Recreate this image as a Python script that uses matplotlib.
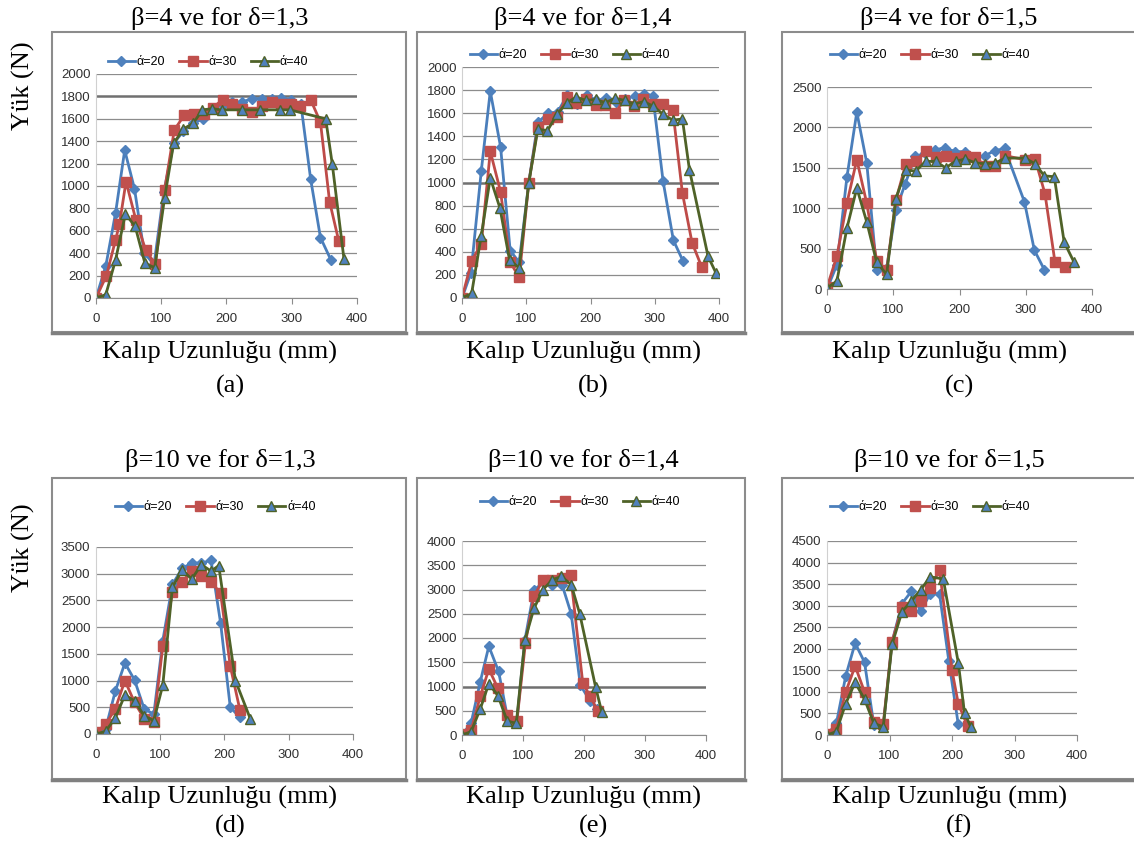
import matplotlib
matplotlib.use("Agg")
import matplotlib.pyplot as plt
from matplotlib.patches import Rectangle
from matplotlib.lines import Line2D

W, H = 1134, 843

# (a) beta=4, delta=1,3
xa_20 = [0, 15, 30, 44, 59, 74, 89, 104, 119, 134, 149, 164, 179, 194, 209, 224, 239, 254, 269, 284, 299, 314, 329, 344, 360]
ya_20 = [0, 285, 760, 1320, 975, 400, 300, 950, 1380, 1490, 1560, 1600, 1700, 1720, 1750, 1750, 1780, 1780, 1780, 1790, 1770, 1730, 1060, 540, 340]
xa_30 = [0, 16, 30, 36, 46, 61, 76, 91, 105, 120, 135, 150, 165, 179, 194, 209, 224, 239, 254, 269, 283, 299, 313, 329, 344, 358, 372]
ya_30 = [0, 200, 520, 660, 1040, 700, 430, 300, 960, 1500, 1630, 1640, 1640, 1700, 1770, 1730, 1690, 1660, 1710, 1750, 1730, 1730, 1710, 1770, 1570, 860, 510]
xa_40 = [0, 15, 30, 45, 60, 75, 90, 105, 119, 134, 149, 163, 178, 193, 223, 252, 282, 297, 352, 362, 380]
ya_40 = [0, 30, 340, 750, 640, 310, 270, 890, 1380, 1510, 1560, 1680, 1690, 1680, 1680, 1680, 1680, 1680, 1600, 1200, 350]

# (b) beta=4, delta=1,4
xb_20 = [0, 14, 30, 44, 60, 75, 89, 104, 118, 134, 149, 164, 179, 194, 209, 224, 239, 254, 269, 284, 297, 313, 329, 344]
yb_20 = [0, 220, 1100, 1790, 1310, 410, 310, 1000, 1520, 1600, 1610, 1760, 1680, 1760, 1710, 1730, 1700, 1720, 1750, 1770, 1750, 1010, 500, 320]
xb_30 = [0, 15, 30, 44, 60, 75, 89, 104, 118, 134, 148, 163, 178, 193, 208, 222, 238, 252, 267, 282, 298, 313, 328, 343, 358, 373]
yb_30 = [0, 320, 470, 1270, 920, 310, 180, 1000, 1480, 1550, 1570, 1740, 1690, 1720, 1670, 1670, 1600, 1710, 1660, 1720, 1680, 1680, 1630, 910, 480, 270]
xb_40 = [0, 15, 30, 44, 59, 74, 89, 104, 118, 133, 148, 163, 178, 193, 208, 223, 238, 253, 268, 283, 298, 313, 328, 343, 354, 383, 395]
yb_40 = [0, 40, 540, 1040, 780, 330, 260, 1000, 1460, 1450, 1590, 1690, 1740, 1710, 1720, 1690, 1730, 1710, 1680, 1700, 1660, 1590, 1540, 1550, 1110, 360, 220]

# (c) beta=4, delta=1,5
xc_20 = [0, 15, 30, 45, 60, 75, 90, 104, 118, 133, 148, 163, 178, 193, 208, 223, 238, 253, 268, 298, 313, 328]
yc_20 = [0, 300, 1380, 2190, 1560, 230, 260, 980, 1300, 1640, 1680, 1720, 1750, 1700, 1700, 1620, 1650, 1710, 1740, 1080, 480, 240]
xc_30 = [0, 15, 30, 45, 60, 75, 90, 104, 119, 134, 149, 164, 179, 194, 209, 224, 239, 254, 269, 299, 314, 329, 344, 359]
yc_30 = [20, 410, 1060, 1600, 1060, 350, 230, 1100, 1550, 1580, 1710, 1630, 1640, 1620, 1640, 1630, 1520, 1520, 1650, 1600, 1610, 1180, 340, 270]
xc_40 = [0, 15, 30, 45, 60, 75, 90, 104, 119, 134, 149, 164, 179, 194, 209, 224, 239, 254, 269, 299, 314, 328, 343, 358, 373]
yc_40 = [10, 100, 750, 1250, 830, 330, 180, 1120, 1470, 1460, 1580, 1580, 1500, 1580, 1610, 1560, 1550, 1560, 1620, 1620, 1550, 1400, 1390, 580, 330]

# (d) beta=10, delta=1,3
xd_20 = [0, 15, 30, 45, 60, 75, 90, 104, 119, 134, 149, 164, 179, 194, 209, 224]
yd_20 = [0, 100, 800, 1330, 1010, 470, 370, 1750, 2800, 3100, 3200, 3200, 3250, 2070, 500, 310]
xd_30 = [0, 15, 30, 45, 60, 75, 90, 104, 119, 134, 149, 164, 179, 194, 209, 224]
yd_30 = [30, 180, 470, 1000, 590, 290, 220, 1650, 2650, 2850, 3050, 2950, 2850, 2630, 1270, 450]
xd_40 = [0, 15, 30, 45, 60, 75, 90, 104, 119, 134, 149, 164, 179, 191, 217, 240]
yd_40 = [0, 50, 300, 730, 620, 340, 250, 920, 2750, 3070, 2900, 3170, 3050, 3150, 1000, 290]

# (e) beta=10, delta=1,4
xe_20 = [0, 15, 30, 44, 60, 74, 90, 103, 118, 133, 148, 164, 179, 194, 210, 222]
ye_20 = [0, 250, 1100, 1830, 1310, 400, 300, 1950, 2980, 3150, 3100, 3100, 2500, 1030, 700, 540]
xe_30 = [0, 15, 30, 44, 59, 74, 90, 104, 118, 133, 148, 164, 178, 198, 210, 223]
ye_30 = [30, 100, 800, 1360, 960, 420, 290, 1900, 2870, 3190, 3200, 3240, 3300, 1070, 800, 490]
xe_40 = [0, 15, 30, 44, 59, 74, 89, 103, 118, 133, 148, 163, 179, 193, 219, 229]
ye_40 = [0, 70, 540, 1060, 810, 290, 240, 1950, 2610, 3000, 3200, 3270, 3100, 2500, 990, 480]

# (f) beta=10, delta=1,5
xf_20 = [0, 15, 30, 45, 60, 75, 90, 104, 120, 135, 150, 165, 180, 195, 210]
yf_20 = [0, 270, 1370, 2130, 1690, 230, 200, 2150, 3050, 3330, 2870, 3280, 3280, 1710, 250]
xf_30 = [0, 15, 30, 45, 60, 75, 90, 104, 120, 135, 150, 165, 180, 200, 210, 225]
yf_30 = [30, 150, 1000, 1600, 1000, 310, 250, 2160, 2960, 2880, 3100, 3400, 3830, 1500, 730, 200]
xf_40 = [0, 15, 30, 45, 60, 75, 90, 104, 120, 135, 150, 165, 186, 210, 220, 230]
yf_40 = [0, 80, 730, 1220, 830, 270, 190, 2100, 2860, 3110, 3370, 3670, 3620, 1680, 510, 190]

titles = ["β=4 ve for δ=1,3", "β=4 ve for δ=1,4", "β=4 ve for δ=1,5",
          "β=10 ve for δ=1,3", "β=10 ve for δ=1,4", "β=10 ve for δ=1,5"]
letters = ["(a)", "(b)", "(c)", "(d)", "(e)", "(f)"]
labels = ["ά=20", "ά=30", "ά=40"]
ymax = [2000, 2000, 2500, 3500, 4000, 4500]
ystep = [200, 200, 500, 500, 500, 500]
xlabel = "Kalıp Uzunluğu (mm)"
ylabel = "Yük (N)"

series = [
    [(xa_20, ya_20), (xa_30, ya_30), (xa_40, ya_40)],
    [(xb_20, yb_20), (xb_30, yb_30), (xb_40, yb_40)],
    [(xc_20, yc_20), (xc_30, yc_30), (xc_40, yc_40)],
    [(xd_20, yd_20), (xd_30, yd_30), (xd_40, yd_40)],
    [(xe_20, ye_20), (xe_30, ye_30), (xe_40, ye_40)],
    [(xf_20, yf_20), (xf_30, yf_30), (xf_40, yf_40)],
]

# layout in pixels: plot area (left, right, top, bottom), chart box (left, right, top, bottom)
plot_px = [(96, 357, 74, 298), (462, 719, 67, 298), (827, 1092, 87, 289),
           (96, 353, 547, 734), (462, 706, 541, 735), (827, 1077, 541, 735)]
box_px = [(52, 406, 32, 332), (417, 745, 32, 332), (782, 1140, 32, 332),
          (52, 406, 478, 779), (417, 745, 478, 779), (782, 1140, 478, 779)]
legend_y = [62, 55, 55, 507, 502, 507]
legend_x = [208, 570, 930, 215, 580, 930]
title_y = [18, 18, 18, 460, 460, 460]
col_x = [220, 583, 949]
xlab_y = [352, 352, 352, 797, 797, 797]
letter_y = [386, 386, 386, 826, 826, 826]
dark_grid = {0: 1800, 1: 1000, 4: 1000}

styles = [
    dict(color="#4A7EBB", marker="D", markersize=5, markerfacecolor="#4F81BD", markeredgecolor="#4F81BD"),
    dict(color="#BE4B48", marker="s", markersize=7, markerfacecolor="#C0504D", markeredgecolor="#C0504D"),
    dict(color="#4F6228", marker="^", markersize=6.5, markerfacecolor="#4F81BD", markeredgecolor="#4F6228"),
]


def fx(x):
    return x / W


def fy(y):
    return 1 - y / H


fig = plt.figure(figsize=(W / 100, H / 100), dpi=100)
fig.patch.set_facecolor("white")
serif = "Liberation Serif"
sans = "Liberation Sans"

for i in range(6):
    col = i % 3
    bl, br, bt, bb = box_px[i]
    fig.patches.append(Rectangle((fx(bl), fy(bb)), fx(br - bl), (bb - bt) / H, transform=fig.transFigure,
                                 fill=False, edgecolor="#8C8C8C", linewidth=1.5, zorder=0))
    fig.lines.append(Line2D([fx(bl), fx(br)], [fy(bb + 1), fy(bb + 1)], transform=fig.transFigure,
                            color="#808080", linewidth=2.5))

    l, r, t, b = plot_px[i]
    ax = fig.add_axes([fx(l), fy(b), (r - l) / W, (b - t) / H])
    for k, (xs, ys) in enumerate(series[i]):
        ax.plot(xs, ys, linewidth=2, label=labels[k], **styles[k])

    ax.set_xlim(0, 400)
    ax.set_ylim(0, ymax[i])
    ax.set_xticks(range(0, 401, 100))
    ax.set_yticks(range(0, ymax[i] + 1, ystep[i]))
    ax.yaxis.grid(True, color="#8C8C8C", linewidth=0.9)
    ax.set_axisbelow(True)
    if i in dark_grid:
        for gl, v in zip(ax.get_ygridlines(), ax.get_yticks()):
            if v == dark_grid[i]:
                gl.set_color("#707070")
                gl.set_linewidth(1.8)
    for s in ["top", "right"]:
        ax.spines[s].set_visible(False)
    ax.spines["left"].set_color("#D0D0D0")
    ax.spines["bottom"].set_color("#8C8C8C")
    ax.tick_params(axis="x", direction="out", length=4, color="#8C8C8C", labelsize=9.5, pad=7)
    ax.tick_params(axis="y", length=0, labelsize=9.5, pad=4)
    for lab in ax.get_xticklabels() + ax.get_yticklabels():
        lab.set_fontfamily(sans)
        lab.set_color("#303030")

    ax.legend(loc="center", bbox_to_anchor=(fx(legend_x[i]), fy(legend_y[i])),
              bbox_transform=fig.transFigure, ncol=3, frameon=False,
              prop={"family": sans, "size": 9}, handlelength=2.2, handletextpad=0.15,
              columnspacing=1.1)

    fig.text(fx(col_x[col]), fy(title_y[i]), titles[i], ha="center", va="center",
             family=serif, fontsize=19)
    fig.text(fx(col_x[col]), fy(xlab_y[i]), xlabel, ha="center", va="center",
             family=serif, fontsize=19)
    fig.text(fx(col_x[col] + 10), fy(letter_y[i]), letters[i], ha="center", va="center",
             family=serif, fontsize=19)

fig.text(fx(23), fy(86), ylabel, rotation=90, ha="center", va="center", family=serif, fontsize=19)
fig.text(fx(23), fy(548), ylabel, rotation=90, ha="center", va="center", family=serif, fontsize=19)

fig.savefig("out.png", dpi=100, facecolor="white")
